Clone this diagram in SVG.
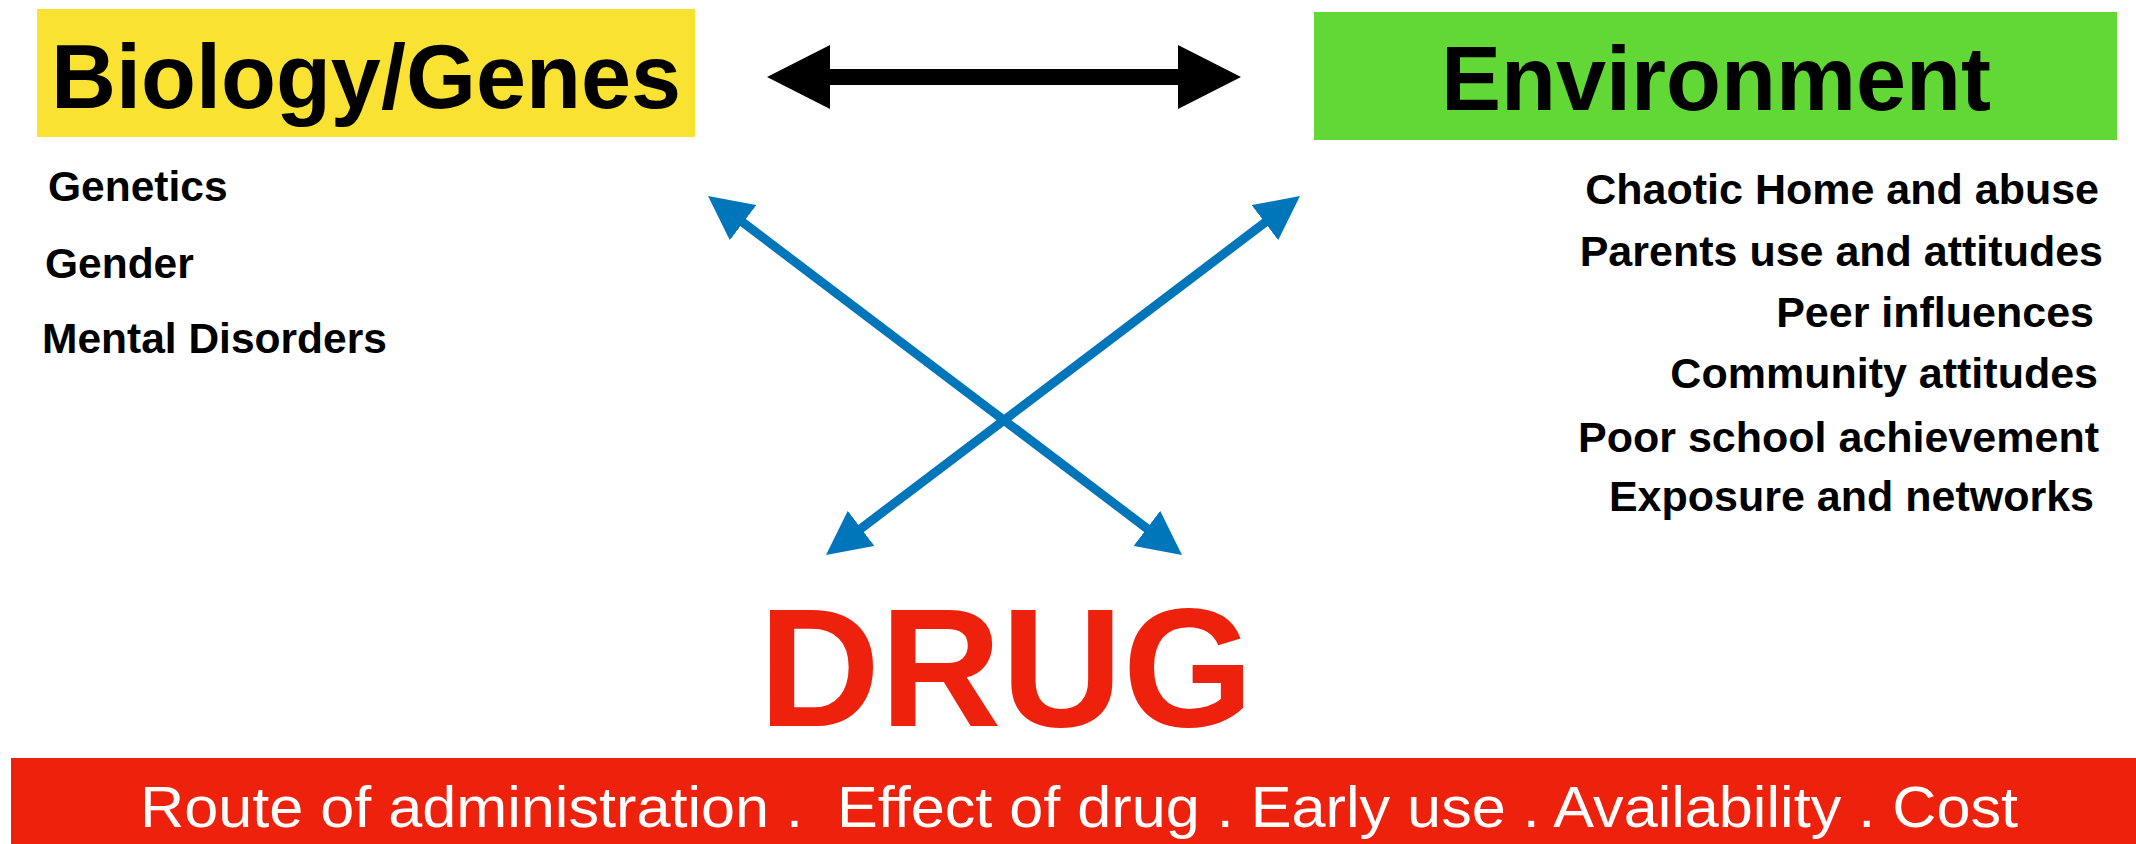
<svg xmlns="http://www.w3.org/2000/svg" width="2136" height="844" viewBox="0 0 2136 844">
<style>
  .title { font-family: "Liberation Sans", Arial, sans-serif; font-weight: bold; font-size: 90px; fill: #000; }
  .item { font-family: "Liberation Sans", Arial, sans-serif; font-weight: bold; font-size: 42.5px; fill: #000; }
  .itemR { font-family: "Liberation Sans", Arial, sans-serif; font-weight: bold; font-size: 43px; fill: #000; }
  .drug { font-family: "Liberation Sans", Arial, sans-serif; font-weight: bold; font-size: 168px; fill: #EE220C; }
  .bar { font-family: "Liberation Sans", Arial, sans-serif; font-size: 57px; fill: #fff; white-space: pre; }
  .blue { stroke: #0076BA; stroke-width: 9; fill: none; }
  .black { stroke: #000; stroke-width: 16; fill: none; }
</style>
<defs>
  <marker id="headBlack" markerUnits="userSpaceOnUse" markerWidth="63" markerHeight="64" refX="3" refY="32" orient="auto-start-reverse" viewBox="0 0 63 64">
    <path d="M0,0 L63,32 L0,64 z" fill="#000"/>
  </marker>
  <marker id="headBlue" markerUnits="userSpaceOnUse" markerWidth="44" markerHeight="44" refX="4" refY="22" orient="auto-start-reverse" viewBox="0 0 44 44">
    <path d="M0,0 L44,22 L0,44 z" fill="#0076BA"/>
  </marker>
</defs>
<rect width="2136" height="844" fill="#fff"/>

<g id="biology">
  <rect x="37" y="9" width="658" height="128" fill="#F9E232"/>
  <text class="title" x="366" y="108" text-anchor="middle">Biology/Genes</text>
  <text class="item" x="48" y="201">Genetics</text>
  <text class="item" x="45" y="278">Gender</text>
  <text class="item" x="42" y="353">Mental Disorders</text>
</g>

<g id="environment">
  <rect x="1314" y="12" width="803" height="128" fill="#61D836"/>
  <text class="title" x="1716" y="110" text-anchor="middle">Environment</text>
  <g class="itemR" text-anchor="end">
    <text x="2099" y="204">Chaotic Home and abuse</text>
    <text x="2103" y="266">Parents use and attitudes</text>
    <text x="2094" y="327">Peer influences</text>
    <text x="2098" y="388">Community attitudes</text>
    <text x="2099" y="452">Poor school achievement</text>
    <text x="2094" y="511">Exposure and networks</text>
  </g>
</g>

<g id="drug">
  <text class="drug" x="1006" y="726" text-anchor="middle">DRUG</text>
  <rect x="11" y="758" width="2125" height="86" fill="#EE220C"/>
  <text class="bar" x="140" y="827" textLength="1878" lengthAdjust="spacingAndGlyphs">Route of administration .  Effect of drug . Early use . Availability . Cost</text>
</g>

<g id="connectors">
  <line class="black" x1="827" y1="77" x2="1181" y2="77" marker-start="url(#headBlack)" marker-end="url(#headBlack)"/>
  <line class="blue" x1="739.9" y1="220.2" x2="1150.1" y2="530.8" marker-start="url(#headBlue)" marker-end="url(#headBlue)"/>
  <line class="blue" x1="857.9" y1="530.8" x2="1268.1" y2="220.2" marker-start="url(#headBlue)" marker-end="url(#headBlue)"/>
</g>
</svg>
